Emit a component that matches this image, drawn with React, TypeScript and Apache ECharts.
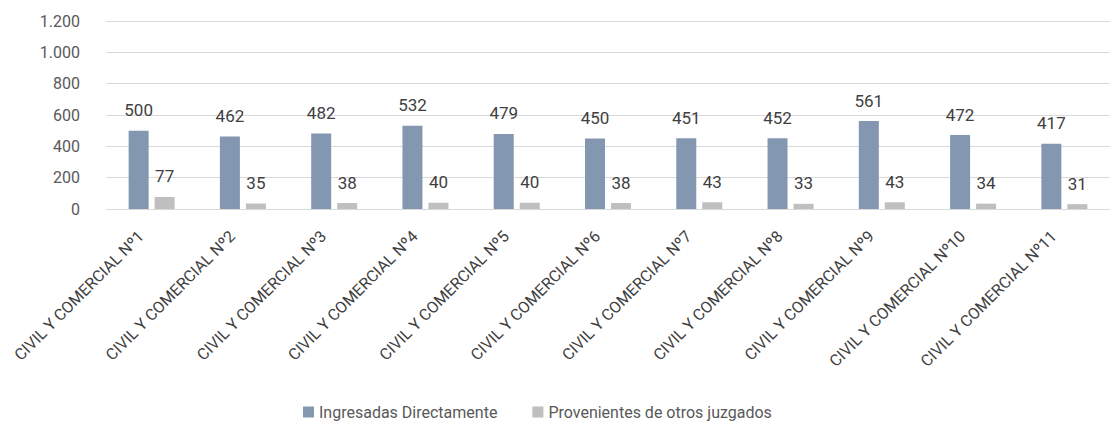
import React, { useEffect, useRef } from "react";
import * as echarts from "echarts";

const categories = [
  "CIVIL Y COMERCIAL Nº1",
  "CIVIL Y COMERCIAL Nº2",
  "CIVIL Y COMERCIAL Nº3",
  "CIVIL Y COMERCIAL Nº4",
  "CIVIL Y COMERCIAL Nº5",
  "CIVIL Y COMERCIAL Nº6",
  "CIVIL Y COMERCIAL Nº7",
  "CIVIL Y COMERCIAL Nº8",
  "CIVIL Y COMERCIAL Nº9",
  "CIVIL Y COMERCIAL Nº10",
  "CIVIL Y COMERCIAL Nº11",
];
const ingresadas = [500, 462, 482, 532, 479, 450, 451, 452, 561, 472, 417];
const provenientes = [77, 35, 38, 40, 40, 38, 43, 33, 43, 34, 31];

const FONT = "Roboto, 'Noto Sans', sans-serif";

export default function App() {
  const ref = useRef<HTMLDivElement>(null);
  useEffect(() => {
    document.body.style.margin = "0";
    const chart = echarts.init(ref.current!, null, { renderer: "svg" });
    const labelStyle = {
      show: true,
      position: "top" as const,
      distance: 12,
      color: "#404040",
      fontSize: 17,
      fontFamily: FONT,
    };
    chart.setOption({
      animation: false,
      textStyle: { fontFamily: FONT },
      grid: { left: 106, right: 9, top: 21, bottom: 221 },
      legend: {
        bottom: 5,
        left: 298,
        itemWidth: 11,
        itemHeight: 11,
        itemGap: 35,
        icon: "rect",
        textStyle: { color: "#595959", fontSize: 16, fontFamily: FONT },
        data: ["Ingresadas Directamente", "Provenientes de otros juzgados"],
      },
      xAxis: {
        type: "category",
        data: categories,
        axisTick: { show: false },
        axisLine: { lineStyle: { color: "#d9d9d9", width: 1 } },
        axisLabel: {
          rotate: 45,
          interval: 0,
          color: "#404040",
          fontSize: 16,
          fontFamily: FONT,
          margin: 14,
          padding: [0, 15, 0, 0],
        },
      },
      yAxis: {
        type: "value",
        min: 0,
        max: 1200,
        interval: 200,
        axisLine: { show: false },
        axisTick: { show: false },
        splitLine: { lineStyle: { color: "#d9d9d9", width: 1 } },
        axisLabel: {
          color: "#595959",
          fontSize: 16,
          fontFamily: FONT,
          margin: 26,
          formatter: (v: number) => v.toString().replace(/\B(?=(\d{3})+(?!\d))/g, "."),
        },
      },
      series: [
        {
          name: "Ingresadas Directamente",
          type: "bar",
          data: ingresadas,
          barWidth: 20,
          barGap: "30%",
          itemStyle: { color: "#8497b0" },
          label: labelStyle,
        },
        {
          name: "Provenientes de otros juzgados",
          type: "bar",
          data: provenientes,
          barWidth: 20,
          itemStyle: { color: "#bfbfbf" },
          label: labelStyle,
        },
      ],
    });
    return () => chart.dispose();
  }, []);
  return <div ref={ref} style={{ width: 1119, height: 430 }} />;
}
